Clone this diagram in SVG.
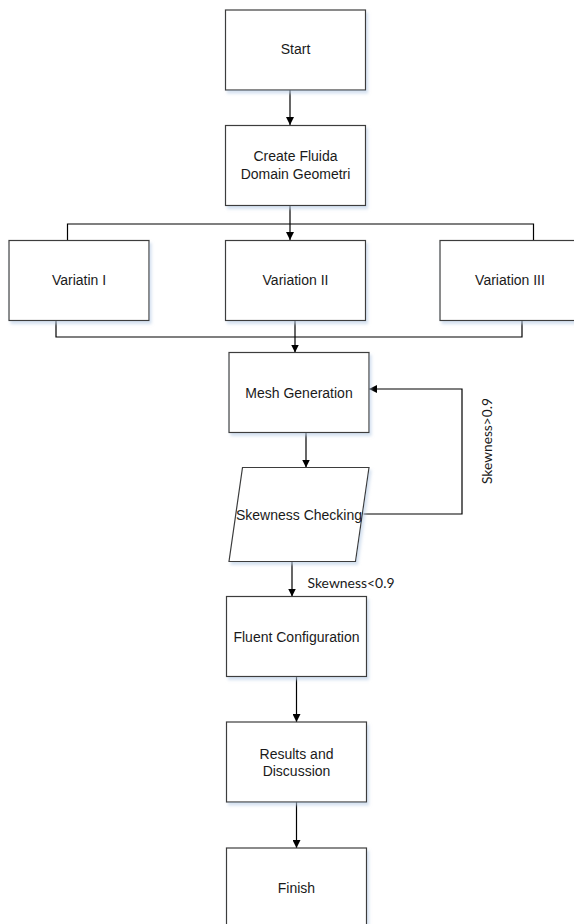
<svg xmlns="http://www.w3.org/2000/svg" width="574" height="924" viewBox="0 0 574 924">
<style>
.box{fill:#fff;stroke:#3c3c3c;stroke-width:1.2;filter:url(#sh)}
.t{font-family:"Liberation Sans",Arial,sans-serif;font-size:14px;fill:#1a1a1a;text-anchor:middle}
.lbl{font-family:Lato,"Open Sans",sans-serif;font-size:14px;fill:#1a1a1a}
.c{fill:none;stroke:#000;stroke-width:1.2}
.a{marker-end:url(#ah)}
</style>
<defs>
<filter id="sh" x="-10%" y="-10%" width="130%" height="130%">
<feDropShadow dx="2" dy="3" stdDeviation="1.5" flood-color="#b9cde6" flood-opacity="0.6"/>
</filter>
<marker id="ah" viewBox="0 0 10 10" refX="10" refY="5" markerWidth="8" markerHeight="8" markerUnits="userSpaceOnUse" orient="auto">
<path d="M0,0 L10,5 L0,10 z" fill="#000"/>
</marker>
</defs>
<rect width="574" height="924" fill="#fff"/>
<g id="connectors">
<path class="c a" d="M290,90 V125"/>
<path class="c a" d="M290,205 V240"/>
<path class="c" d="M67.5,240 V224 H533.5 V240"/>
<path class="c" d="M56,320.5 V337 H522 V320.5"/>
<path class="c a" d="M295,320.5 V352.5"/>
<path class="c a" d="M306,432.5 V467.5"/>
<path class="c a" d="M363.5,514 H462 V389 H369"/>
<path class="c a" d="M292,561.5 V596.5"/>
<path class="c a" d="M296.5,676.5 V722"/>
<path class="c a" d="M296.5,802 V848"/>
<text class="lbl" transform="translate(492,441) rotate(-90)" text-anchor="middle" textLength="86" lengthAdjust="spacingAndGlyphs">Skewness&gt;0.9</text>
<text class="lbl" x="307.5" y="587.5" textLength="87" lengthAdjust="spacingAndGlyphs">Skewness&lt;0.9</text>
</g>
<g id="start"><rect class="box" x="225.5" y="10" width="140" height="80"/><text class="t" x="295.5" y="54">Start</text></g>
<g id="create"><rect class="box" x="225.5" y="125.5" width="140" height="80"/><text class="t" x="295.5" y="161">Create Fluida</text><text class="t" x="295.5" y="179">Domain Geometri</text></g>
<g id="var1"><rect class="box" x="9" y="240.5" width="140" height="80"/><text class="t" x="79" y="285">Variatin I</text></g>
<g id="var2"><rect class="box" x="225.5" y="240.5" width="140" height="80"/><text class="t" x="295.5" y="285">Variation II</text></g>
<g id="var3"><rect class="box" x="440" y="240.5" width="140" height="80"/><text class="t" x="510" y="285">Variation III</text></g>
<g id="mesh"><rect class="box" x="229" y="352.5" width="140" height="80"/><text class="t" x="299" y="397.5">Mesh Generation</text></g>
<g id="skew"><polygon class="box" points="242.5,467.5 369,467.5 355.5,561.5 229,561.5"/><text class="t" x="299" y="520">Skewness Checking</text></g>
<g id="fluent"><rect class="box" x="226.5" y="596.5" width="140" height="80"/><text class="t" x="296.5" y="642">Fluent Configuration</text></g>
<g id="results"><rect class="box" x="226.5" y="722" width="140" height="80"/><text class="t" x="296.5" y="759">Results and</text><text class="t" x="296.5" y="776">Discussion</text></g>
<g id="finish"><rect class="box" x="226.5" y="848" width="140" height="80"/><text class="t" x="296.5" y="893">Finish</text></g>
</svg>
